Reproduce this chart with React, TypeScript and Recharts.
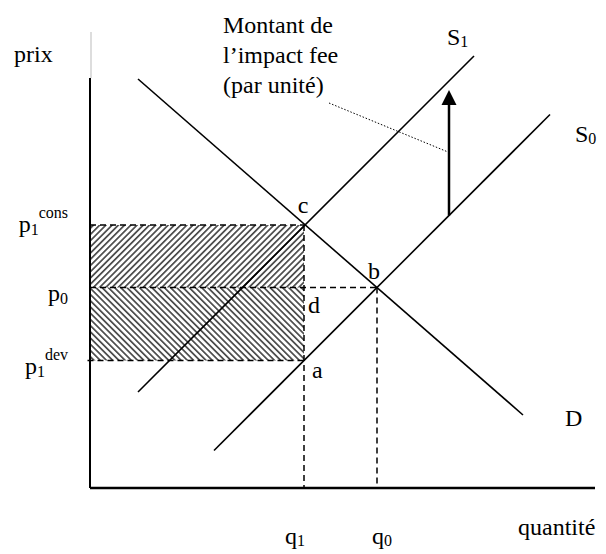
import React from 'react';
import {
  ComposedChart,
  Line,
  XAxis,
  YAxis,
  ReferenceLine,
  ReferenceArea,
  ReferenceDot,
} from 'recharts';

// curves of the diagram, (quantity, price)
const demand = [
  { q: 9.6, p: 81.8 },
  { q: 86.6, p: 14.6 },
];
const supply0 = [
  { q: 24.8, p: 7.5 },
  { q: 92, p: 74.7 },
];
const supply1 = [
  { q: 9.6, p: 19.2 },
  { q: 76.8, p: 86.4 },
];

const q1 = 42.8;
const q0 = 57.4;
const p1Cons = 52.6;
const p0 = 40.1;
const p1Dev = 25.5;

// impact fee arrow and its leader line
const feeQ = 71.8;
const feeBase = 54.5;
const feeTip = 79.6;
const leader = [
  { x: 47.8, y: 77 },
  { x: 71.6, y: 67.2 },
];

const priceTicks = [p1Dev, p0, p1Cons];
const priceLabels = [
  { base: 'p', sub: '1', sup: 'dev' },
  { base: 'p', sub: '0', sup: '' },
  { base: 'p', sub: '1', sup: 'cons' },
];
const quantityTicks = [q1, q0];
const quantityLabels = [
  { base: 'q', sub: '1' },
  { base: 'q', sub: '0' },
];

const pointNames = ['a', 'b', 'c', 'd'];
const pointQ = [q1, q0, q1, q1];
const pointP = [p1Dev, p0, p1Cons, p0];

const feeText = ['Montant de', 'l’impact fee', '(par unité)'];

const Q_MAX = 101;
const P_MAX = 91.2;
const AXIS_TOP = 82;

const FONT = '"Liberation Serif", "Times New Roman", serif';
const BIG = 24;
const SMALL = 16;

// label offsets in px
const priceTickDy = [13, 13, 7];
const quantityTickDx = [-19, -5];
const pointOffset: Record<string, [number, number, string]> = {
  a: [8, 17, 'start'],
  b: [-3, -9, 'middle'],
  c: [-1, -12, 'middle'],
  d: [4, 25, 'start'],
};

function PriceTick(props: any) {
  const { x, y, payload } = props;
  const i = priceTicks.indexOf(payload.value);
  const lab = priceLabels[i];
  if (!lab) return null;
  return (
    <text x={x - 22} y={y + priceTickDy[i]} textAnchor="end" fontSize={BIG} fontFamily={FONT} fill="#000">
      <tspan>{lab.base}</tspan>
      <tspan fontSize={SMALL} dy={3}>{lab.sub}</tspan>
      {lab.sup ? (
        <tspan fontSize={SMALL} dy={-17}>{lab.sup}</tspan>
      ) : null}
    </text>
  );
}

function QuantityTick(props: any) {
  const { x, y, payload } = props;
  const i = quantityTicks.indexOf(payload.value);
  const lab = quantityLabels[i];
  if (!lab) return null;
  return (
    <text x={x + quantityTickDx[i]} y={y + 56} fontSize={BIG} fontFamily={FONT} fill="#000">
      <tspan>{lab.base}</tspan>
      <tspan fontSize={SMALL} dy={2}>{lab.sub}</tspan>
    </text>
  );
}

const note = (
  key: string,
  q: number,
  p: number,
  dx: number,
  dy: number,
  content: React.ReactNode,
  anchor: string = 'start'
) => (
  <ReferenceDot
    key={key}
    x={q}
    y={p}
    r={0}
    ifOverflow="visible"
    shape={(s: any) => (
      <text
        x={s.cx + dx}
        y={s.cy + dy}
        textAnchor={anchor as any}
        fontSize={BIG}
        fontFamily={FONT}
        style={{ fontFamily: FONT }}
        fill="#000"
      >
        {content}
      </text>
    )}
  />
);

export default function App() {
  const dash = '6 4';
  const feeX = 90 + leader[0].x * 5 - 106;
  return (
    <div style={{ position: 'absolute', left: 0, top: 0, background: '#fff', fontFamily: FONT }}>
      <ComposedChart width={606} height={554} margin={{ top: 32, right: 11, bottom: 26, left: 30 }}>
        <defs>
          <pattern id="hatchUp" width="4.4" height="4.4" patternUnits="userSpaceOnUse" patternTransform="rotate(45)">
            <rect width="1.7" height="4.4" fill="#4a4a4a" />
          </pattern>
          <pattern id="hatchDown" width="4.4" height="4.4" patternUnits="userSpaceOnUse" patternTransform="rotate(-45)">
            <rect width="1.7" height="4.4" fill="#4a4a4a" />
          </pattern>
        </defs>
        <XAxis
          type="number"
          dataKey="q"
          domain={[0, Q_MAX]}
          allowDataOverflow
          ticks={quantityTicks}
          interval={0}
          tick={(props: any) => <QuantityTick {...props} />}
          tickSize={0}
          tickMargin={0}
          axisLine={false}
          tickLine={false}
          height={40}
        />
        <YAxis
          type="number"
          dataKey="p"
          domain={[0, P_MAX]}
          allowDataOverflow
          ticks={priceTicks}
          interval={0}
          tick={(props: any) => <PriceTick {...props} />}
          tickSize={0}
          tickMargin={0}
          axisLine={false}
          tickLine={false}
          width={60}
        />

        <ReferenceArea x1={0} x2={q1} y1={p0} y2={p1Cons} fill="url(#hatchUp)" fillOpacity={1} stroke="none" />
        <ReferenceArea x1={0} x2={q1} y1={p1Dev} y2={p0} fill="url(#hatchDown)" fillOpacity={1} stroke="none" />

        {/* axes */}
        <ReferenceLine segment={[{ x: 0.2, y: AXIS_TOP }, { x: 0.2, y: P_MAX }]} stroke="#bbb" strokeWidth={1} ifOverflow="visible" />
        <ReferenceLine segment={[{ x: 0, y: 0 }, { x: 0, y: AXIS_TOP }]} stroke="#000" strokeWidth={2} ifOverflow="visible" />
        <ReferenceLine segment={[{ x: 0, y: 0 }, { x: Q_MAX, y: 0 }]} stroke="#000" strokeWidth={2.5} ifOverflow="visible" />

        {/* guide lines */}
        <ReferenceLine segment={[{ x: 0, y: p1Cons }, { x: q1, y: p1Cons }]} stroke="#000" strokeWidth={1.5} strokeDasharray={dash} />
        <ReferenceLine segment={[{ x: 0, y: p0 }, { x: q0, y: p0 }]} stroke="#000" strokeWidth={1.5} strokeDasharray={dash} />
        <ReferenceLine segment={[{ x: -0.5, y: p1Dev }, { x: q1, y: p1Dev }]} stroke="#000" strokeWidth={1.5} strokeDasharray={dash} ifOverflow="visible" />
        <ReferenceLine segment={[{ x: q1, y: p1Cons }, { x: q1, y: 0 }]} stroke="#000" strokeWidth={1.5} strokeDasharray={dash} />
        <ReferenceLine segment={[{ x: q0, y: p0 }, { x: q0, y: 0 }]} stroke="#000" strokeWidth={1.5} strokeDasharray={dash} />

        <Line data={demand} dataKey="p" type="linear" stroke="#000" strokeWidth={1.6} dot={false} activeDot={false} isAnimationActive={false} />
        <Line data={supply0} dataKey="p" type="linear" stroke="#000" strokeWidth={1.6} dot={false} activeDot={false} isAnimationActive={false} />
        <Line data={supply1} dataKey="p" type="linear" stroke="#000" strokeWidth={1.6} dot={false} activeDot={false} isAnimationActive={false} />

        {/* impact fee */}
        <ReferenceLine segment={leader} stroke="#000" strokeWidth={1} strokeDasharray="1.5 1.8" />
        <ReferenceLine segment={[{ x: feeQ, y: feeBase }, { x: feeQ, y: feeTip - 2.5 }]} stroke="#000" strokeWidth={2.5} />
        <ReferenceDot
          x={feeQ}
          y={feeTip}
          r={0}
          shape={(s: any) => (
            <polygon
              points={`${s.cx},${s.cy} ${s.cx - 7.5},${s.cy + 15} ${s.cx + 7.5},${s.cy + 15}`}
              fill="#000"
            />
          )}
        />

        {pointNames.map((n, i) =>
          note('pt-' + n, pointQ[i], pointP[i], pointOffset[n][0], pointOffset[n][1], n, pointOffset[n][2])
        )}

        {note('s1', supply1[1].q, supply1[1].p, -27, -11, [
          <tspan key="a">S</tspan>,
          <tspan key="b" fontSize={SMALL} dy={2}>1</tspan>,
        ])}
        {note('s0', supply0[1].q, supply0[1].p, 25, 27, [
          <tspan key="a">S</tspan>,
          <tspan key="b" fontSize={SMALL} dy={2}>0</tspan>,
        ])}
        {note('d', demand[1].q, demand[1].p, 42, 11, 'D')}
        {note('prix', 0, AXIS_TOP, -76, -16, 'prix')}
        {note('quantite', Q_MAX, 0, -77, 47, 'quantité')}
        {note(
          'fee',
          leader[0].x,
          leader[0].y,
          -106,
          -70,
          feeText.map((t, i) => (
            <tspan key={t} x={feeX} dy={i === 0 ? 0 : 30} fontFamily={FONT}>
              {t}
            </tspan>
          ))
        )}
      </ComposedChart>
    </div>
  );
}
